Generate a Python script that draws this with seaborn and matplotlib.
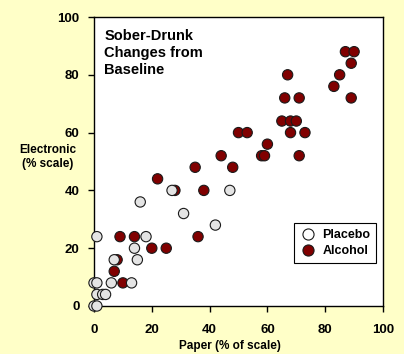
import matplotlib
matplotlib.use("Agg")
import matplotlib.pyplot as plt
import pandas as pd
import seaborn as sns

# Sober-drunk changes from baseline, paper vs electronic (% of scale)
PLACEBO_X = [27, 47, 16, 31, 42, 1, 18, 14, 7, 15, 0, 1, 6, 13, 1, 3, 4, 0, 1]
PLACEBO_Y = [40, 40, 36, 32, 28, 24, 24, 20, 16, 16, 8, 8, 8, 8, 4, 4, 4, 0, 0]
ALCOHOL_X = [87, 90, 89, 85, 83, 89, 67, 66, 71, 65, 68, 70, 68, 73, 50, 53,
             60, 58, 59, 71, 44, 35, 48, 22, 28, 38, 36, 9, 14, 20, 25, 8, 7, 10]
ALCOHOL_Y = [88, 88, 84, 80, 76, 72, 80, 72, 72, 64, 64, 64, 60, 60, 60, 60,
             56, 52, 52, 52, 52, 48, 48, 44, 40, 40, 24, 24, 24, 20, 20, 16, 12, 8]
GROUPS = ["Placebo", "Alcohol"]
TICKS = [0, 20, 40, 60, 80, 100]

BG = "#FFFFC8"
COLORS = {"Placebo": "#E4E4E4", "Alcohol": "#800000"}


def main():
    df = pd.concat([
        pd.DataFrame({"paper": ALCOHOL_X, "electronic": ALCOHOL_Y, "group": "Alcohol"}),
        pd.DataFrame({"paper": PLACEBO_X, "electronic": PLACEBO_Y, "group": "Placebo"}),
    ], ignore_index=True)

    sns.set_style("ticks")
    plt.rcParams["font.family"] = ["Liberation Sans", "DejaVu Sans"]
    plt.rcParams["font.weight"] = "bold"
    plt.rcParams["text.color"] = "black"

    fig = plt.figure(figsize=(4.04, 3.54), dpi=100, facecolor=BG)
    ax = fig.add_axes([94 / 404, 48 / 354, 289 / 404, 289 / 354])

    sns.scatterplot(data=df, x="paper", y="electronic", hue="group",
                    hue_order=GROUPS, palette=COLORS, s=55,
                    edgecolor="#1a1a1a", linewidth=0.8, clip_on=False,
                    zorder=3, ax=ax, legend=False)

    ax.set_xlim(0, 100)
    ax.set_ylim(0, 100)
    ax.set_xticks(TICKS)
    ax.set_yticks(TICKS)
    ax.tick_params(length=4, width=1, labelsize=9.5, colors="black")
    ax.tick_params(axis="y", pad=6.5)
    ax.tick_params(axis="x", pad=9)
    for lab in ax.get_xticklabels() + ax.get_yticklabels():
        lab.set_fontweight("bold")
    for sp in ax.spines.values():
        sp.set_linewidth(1)
        sp.set_color("black")
    ax.set_xlabel("")
    ax.set_ylabel("")

    fig.text(230 / 404, 1 - 346 / 354, "Paper (% of scale)", ha="center",
             va="center", fontsize=8.5, fontweight="bold")
    fig.text(48 / 404, 1 - 157 / 354, "Electronic\n(% scale)", ha="center",
             va="center", fontsize=8.5, fontweight="bold", linespacing=1.3)

    ax.text(0.035, 0.96, "Sober-Drunk\nChanges from\nBaseline",
            transform=ax.transAxes, ha="left", va="top", fontsize=10.5,
            fontweight="bold", linespacing=1.3)

    handles = [
        plt.Line2D([], [], marker="o", ls="", ms=8, mfc="white",
                   mec="#1a1a1a", mew=0.8, label="Placebo"),
        plt.Line2D([], [], marker="o", ls="", ms=8, mfc=COLORS["Alcohol"],
                   mec="#1a1a1a", mew=0.8, label="Alcohol"),
    ]
    leg = ax.legend(handles=handles, loc="upper left",
                    bbox_to_anchor=(194 / 289, 1 - 200 / 289),
                    fancybox=False, edgecolor="black", framealpha=1,
                    prop={"size": 9, "weight": "bold"}, handletextpad=0.5,
                    handlelength=1.3, borderpad=0.45, labelspacing=0.35)
    leg.get_frame().set_linewidth(0.8)

    fig.savefig("out.png", dpi=100, facecolor=BG)
    plt.close(fig)


if __name__ == "__main__":
    main()
